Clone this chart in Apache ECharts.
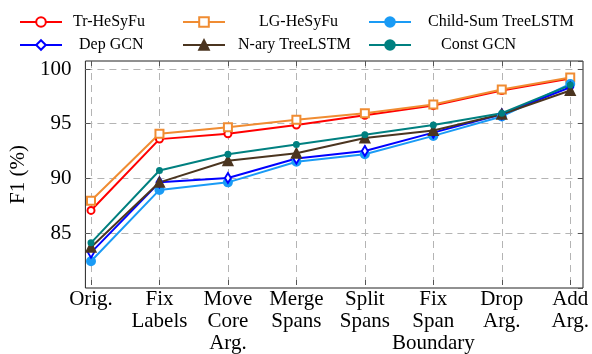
<!DOCTYPE html>
<html>
<head>
<meta charset="utf-8">
<script src="https://cdn.jsdelivr.net/npm/echarts@6/dist/echarts.min.js"></script>
<style>html,body{margin:0;padding:0;background:#fff}#c{width:592px;height:354px}</style>
</head>
<body>
<div id="c"></div>
<script>
const categories = ['Orig.', 'Fix\nLabels', 'Move\nCore\nArg.', 'Merge\nSpans', 'Split\nSpans', 'Fix\nSpan\nBoundary', 'Drop\nArg.', 'Add\nArg.'];
const trHeSyFu = [86.9, 93.5, 94.0, 94.8, 95.7, 96.6, 98.0, 99.1];
const lgHeSyFu = [87.8, 94.0, 94.6, 95.3, 95.9, 96.7, 98.1, 99.2];
const childSum = [82.2, 88.8, 89.5, 91.4, 92.1, 93.8, 95.6, 98.6];
const depGCN = [83.0, 89.5, 89.9, 91.7, 92.4, 94.1, 95.8, 98.3];
const naryTree = [83.5, 89.5, 91.5, 92.2, 93.6, 94.3, 95.8, 98.0];
const constGCN = [83.9, 90.6, 92.1, 93.0, 93.9, 94.8, 95.9, 98.5];
const yTicks = [85, 90, 95, 100];

const FONT = 'Liberation Serif';
const YMIN = 80, YMAX = 100.73;

const seriesDefs = [
  {name: 'Tr-HeSyFu', data: trHeSyFu, color: '#ff0000', symbol: 'emptyCircle', size: 7},
  {name: 'LG-HeSyFu', data: lgHeSyFu, color: '#f08c32', symbol: 'emptyRect', size: 8},
  {name: 'Child-Sum TreeLSTM', data: childSum, color: '#1a9bf5', symbol: 'circle', size: 8},
  {name: 'Dep GCN', data: depGCN, color: '#0000ff', symbol: 'emptyDiamond', size: [6, 10]},
  {name: 'N-ary TreeLSTM', data: naryTree, color: '#4b3520', symbol: 'triangle', size: 9},
  {name: 'Const GCN', data: constGCN, color: '#008080', symbol: 'circle', size: 5}
];

const legendPos = [
  {left: 19, top: 14, pad: 6},
  {left: 182, top: 14, pad: 29},
  {left: 368, top: 14, pad: 12},
  {left: 19, top: 37, pad: 12},
  {left: 182, top: 37, pad: 8},
  {left: 368, top: 37, pad: 25}
];

const chart = echarts.init(document.getElementById('c'), null, {renderer: 'canvas'});
const dash = {color: '#b4b4b4', width: 1, type: [7, 5]};

chart.setOption({
  animation: false,
  backgroundColor: '#fff',
  textStyle: {fontFamily: FONT},
  legend: seriesDefs.map((s, i) => ({
    data: [s.name],
    left: legendPos[i].left,
    top: legendPos[i].top,
    padding: 0,
    itemWidth: 42,
    itemHeight: 12,
    formatter: n => '{s|}' + n,
    textStyle: {fontFamily: FONT, fontSize: 16, color: '#000', rich: {s: {width: legendPos[i].pad}}}
  })),
  grid: [
    {left: 91, right: 16, top: 61, bottom: 66},
    {left: 78, right: 9, top: 61, bottom: 66, show: true, borderColor: '#222', borderWidth: 1, backgroundColor: 'transparent'}
  ],
  xAxis: [
    {gridIndex: 0, type: 'category', data: categories, boundaryGap: false, position: 'bottom',
     axisLine: {show: false},
     axisTick: {show: true, inside: true, length: 5, lineStyle: {color: '#555'}},
     axisLabel: {fontFamily: FONT, fontSize: 21, lineHeight: 22, color: '#000', margin: 3, interval: 0},
     splitLine: {show: true, lineStyle: dash}},
    {gridIndex: 0, type: 'category', data: categories, boundaryGap: false, position: 'top',
     axisLine: {show: false},
     axisTick: {show: true, inside: true, length: 5, lineStyle: {color: '#555'}},
     axisLabel: {show: false}, splitLine: {show: false}},
    {gridIndex: 1, type: 'value', min: 0, max: 1, show: false}
  ],
  yAxis: [
    {gridIndex: 0, type: 'value', min: YMIN, max: YMAX, show: false},
    {gridIndex: 1, type: 'value', min: YMIN, max: YMAX, interval: 5, position: 'left',
     axisLine: {show: false},
     axisTick: {show: true, inside: true, length: 5, lineStyle: {color: '#555'}},
     axisLabel: {fontFamily: FONT, fontSize: 21, color: '#000', margin: 14, showMinLabel: false, showMaxLabel: false,
       formatter: v => yTicks.includes(v) ? String(v) : ''},
     splitLine: {show: true, showMinLine: false, showMaxLine: false, lineStyle: dash},
     name: 'F1 (%)', nameLocation: 'middle', nameGap: 34,
     nameTextStyle: {fontFamily: FONT, fontSize: 21, color: '#000'}},
    {gridIndex: 1, type: 'value', min: YMIN, max: YMAX, interval: 5, position: 'right',
     axisLine: {show: false},
     axisTick: {show: true, inside: true, length: 5, lineStyle: {color: '#555'}},
     axisLabel: {show: false}, splitLine: {show: false}}
  ],
  series: seriesDefs.map(s => ({
    name: s.name, type: 'line', xAxisIndex: 0, yAxisIndex: 0,
    data: s.data, symbol: s.symbol, symbolSize: s.size, showAllSymbol: true,
    color: s.color,
    lineStyle: {color: s.color, width: 2},
    itemStyle: {color: s.color, borderColor: s.color, borderWidth: 2}
  }))
});
</script>
</body>
</html>
